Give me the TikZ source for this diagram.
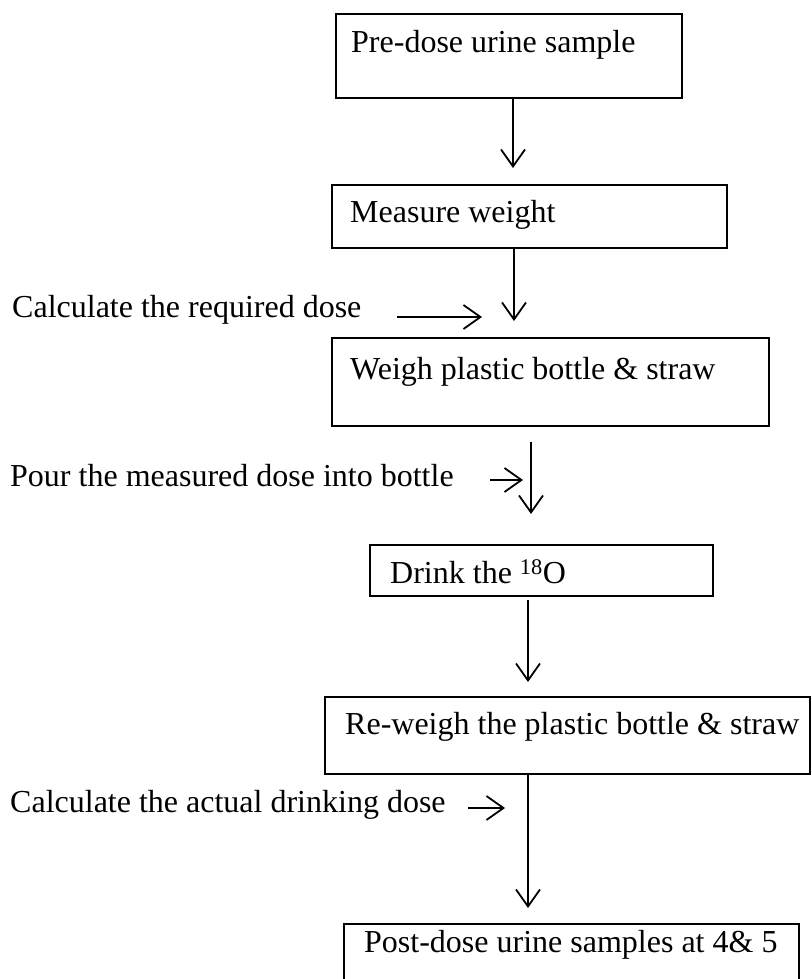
\documentclass[tikz,border=0pt]{standalone}
\usepackage{fontspec}
\setmainfont{Liberation Serif}
\usetikzlibrary{arrows.meta}
\begin{document}
\begin{tikzpicture}[x=1pt,y=-1pt,
  stepbox/.style={draw=black, line width=2pt, inner sep=0pt},
  lbl/.style={anchor=west, inner sep=0pt, font=\fontsize{32}{38}\selectfont},
  arr/.style={line width=1.8pt, -{Straight Barb[length=17pt,width=24pt,line width=1.8pt]}}]
\useasboundingbox (0,0) rectangle (811,979);
\clip (0,0) rectangle (811,979);
% boxes (corners)
\node[stepbox, minimum width=346pt, minimum height=84pt, anchor=north west] (b1) at (335,13) {};
\node[stepbox, minimum width=395pt, minimum height=63pt, anchor=north west] (b2) at (331,184) {};
\node[stepbox, minimum width=437pt, minimum height=88pt, anchor=north west] (b3) at (331,337) {};
\node[stepbox, minimum width=343pt, minimum height=51pt, anchor=north west] (b4) at (369,544) {};
\node[stepbox, minimum width=485pt, minimum height=77pt, anchor=north west] (b5) at (324,696) {};
\node[stepbox, minimum width=455pt, minimum height=90pt, anchor=north west] (b6) at (343,923) {};
% box texts
\node[lbl] (t1) at (351,45) {Pre-dose urine sample};
\node[lbl] (t2) at (350,215) {Measure weight};
\node[lbl] (t3) at (350,372) {Weigh plastic bottle \& straw};
\node[lbl] (t4) at (390,572) {Drink the \textsuperscript{18}O};
\node[lbl] (t5) at (345,727) {Re-weigh the plastic bottle \& straw};
\node[lbl] (t6) at (364,945) {Post-dose urine samples at 4\& 5};
% side texts
\node[lbl] (s1) at (12,310) {Calculate the required dose};
\node[lbl] (s2) at (10,476) {Pour the measured dose into bottle};
\node[lbl] (s3) at (10,805) {Calculate the actual drinking dose};
% arrow end points
\coordinate (e1) at (513,168);
\coordinate (e2) at (514,321);
\coordinate (a3s) at (531,442);
\coordinate (e3) at (531,514);
\coordinate (a4s) at (528,600);
\coordinate (e4) at (528,682);
\coordinate (e5) at (528,908);
\coordinate (h1s) at (397,317);
\coordinate (h1e) at (482,317);
\coordinate (h2s) at (490,480);
\coordinate (h2e) at (523,480);
\coordinate (h3s) at (468,808);
\coordinate (h3e) at (505,808);
% vertical arrows
\draw[arr] (b1.south -| e1) -- (e1);
\draw[arr] (b2.south -| e2) -- (e2);
\draw[arr] (a3s) -- (e3);
\draw[arr] (a4s) -- (e4);
\draw[arr] (b5.south -| e5) -- (e5);
% side arrows
\draw[arr] (h1s) -- (h1e);
\draw[arr] (h2s) -- (h2e);
\draw[arr] (h3s) -- (h3e);
\end{tikzpicture}
\end{document}
